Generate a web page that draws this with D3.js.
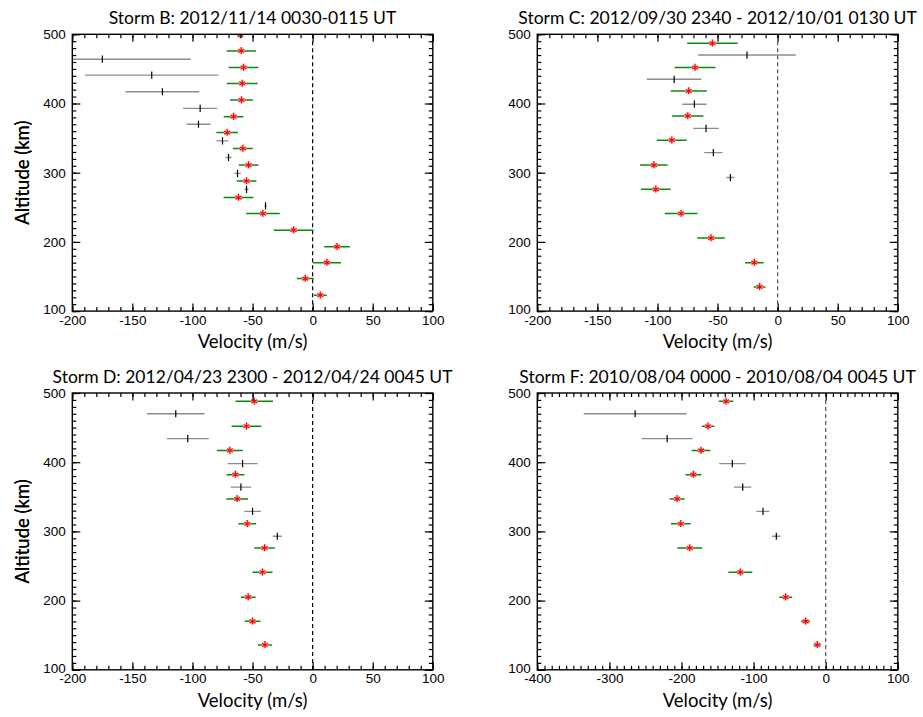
<!DOCTYPE html>
<html><head><meta charset="utf-8">
<script src="https://cdn.jsdelivr.net/npm/d3@7"></script>
<style>body{margin:0;background:#fff} svg{display:block}</style>
</head><body>
<svg id="chart" width="923" height="717"></svg>
<script>
// ---------------- DATA ----------------
const titles = [
  "Storm B: 2012/11/14 0030-0115 UT",
  "Storm C: 2012/09/30 2340 - 2012/10/01 0130 UT",
  "Storm D: 2012/04/23 2300 - 2012/04/24 0045 UT",
  "Storm F: 2010/08/04 0000 - 2010/08/04 0045 UT"
];
const xDomains = [[-200, 100], [-200, 100], [-200, 100], [-400, 100]];
const yDomain = [100, 500];
const yTickLabels = [100, 200, 300, 400, 500];
const xTickLabelsB = [-200, -150, -100, -50, 0, 50, 100];
const xTickLabelsF = [-400, -300, -200, -100, 0, 100];

// Storm B
const stormB_starAlt = [499,476,452,429,405,381,358,335,311,288,264,241,217,193,170,147,123];
const stormB_starVel = [-60.3,-59.4,-57.5,-58.6,-59.2,-65.8,-71.1,-58.1,-53.3,-55,-61.7,-41.4,-15.8,20.3,11.9,-6.1,6.4];
const stormB_starErr = [1,12.2,12.4,12.8,9.5,8.2,9,8.2,8.2,8.2,12.4,14,16.5,10.7,11.7,7,5.3];
const stormB_plusAlt = [464,441,417,393,370,346,322,299,276,252];
const stormB_plusVel = [-175,-133.9,-125,-93.6,-95,-75,-70,-62.5,-55,-39.2];
const stormB_plusErr = [73.6,55.5,30.7,14.2,10,5,2.5,2.7,1.7,1];

// Storm C
const stormC_starAlt = [487,452,418,382,347,311,276,241,205.5,170,135];
const stormC_starVel = [-54.3,-68.7,-74,-74.8,-88.1,-103,-101.4,-80.3,-55.4,-19.4,-15];
const stormC_starErr = [21,17,15,13,12.4,11.5,12.4,13.6,11.5,7.8,4.9];
const stormC_plusAlt = [470,435,399,364,329,293];
const stormC_plusVel = [-25.5,-86.1,-69.3,-59.6,-53.5,-39.3];
const stormC_plusErr = [40.6,22.7,10.1,10.7,7.6,3.3];

// Storm D
const stormD_starAlt = [488,452,417,382,347,311,276,241,205,170,136];
const stormD_starVel = [-48.6,-55,-68.9,-64.2,-62.8,-54.4,-40,-41.7,-53.6,-50,-39.7];
const stormD_starErr = [15.6,12.4,10.8,7.4,9,7.4,8.6,8.3,6.1,6.5,5.8];
const stormD_plusAlt = [470,434,398,364,329,293];
const stormD_plusVel = [-113.9,-103.9,-58.3,-59.7,-50,-29.4];
const stormD_plusErr = [24,17.5,12.4,8.6,6.9,3.75];

// Storm F
const stormF_starAlt = [488,452,417,382,347,311,276,241,205,170,136];
const stormF_starVel = [-138.2,-163.2,-172.9,-183.5,-206.1,-201,-188.6,-118.4,-55.6,-27.9,-11.7];
const stormF_starErr = [10,8.8,13,11,10.4,13.6,17.3,16.6,8.8,6.2,5.3];
const stormF_plusAlt = [470,434,398,364,329,293];
const stormF_plusVel = [-264.3,-219.9,-129.5,-115.1,-87,-68.5];
const stormF_plusErr = [71.3,35.3,18.3,12,9,5.8];

// ---------------- LAYOUT ----------------
const storms = [
  {title: titles[0], xd: xDomains[0], xt: xTickLabelsB, sA: stormB_starAlt, sV: stormB_starVel, sE: stormB_starErr, pA: stormB_plusAlt, pV: stormB_plusVel, pE: stormB_plusErr, x0: 72.3, y0: 34.3, dash: "#000"},
  {title: titles[1], xd: xDomains[1], xt: xTickLabelsB, sA: stormC_starAlt, sV: stormC_starVel, sE: stormC_starErr, pA: stormC_plusAlt, pV: stormC_plusVel, pE: stormC_plusErr, x0: 537.3, y0: 34.3, dash: "#555"},
  {title: titles[2], xd: xDomains[2], xt: xTickLabelsB, sA: stormD_starAlt, sV: stormD_starVel, sE: stormD_starErr, pA: stormD_plusAlt, pV: stormD_plusVel, pE: stormD_plusErr, x0: 72.3, y0: 393, dash: "#000"},
  {title: titles[3], xd: xDomains[3], xt: xTickLabelsF, sA: stormF_starAlt, sV: stormF_starVel, sE: stormF_starErr, pA: stormF_plusAlt, pV: stormF_plusVel, pE: stormF_plusErr, x0: 537.3, y0: 393, dash: "#555"}
];
const W = 360.5, H = 276.8;
const svg = d3.select("#chart");
const tickFont = "'Liberation Sans', Arial, sans-serif";
const titleFont = "Lato, 'Open Sans', sans-serif";

storms.forEach((s, i) => {
  const g = svg.append("g").attr("transform", `translate(${s.x0},${s.y0})`);
  const x = d3.scaleLinear().domain(s.xd).range([0, W]);
  const y = d3.scaleLinear().domain(yDomain).range([H, 0]);

  const clipId = "clip" + i;
  g.append("clipPath").attr("id", clipId).append("rect").attr("width", W).attr("height", H);
  const plot = g.append("g").attr("clip-path", `url(#${clipId})`);

  // zero dashed line
  plot.append("line").attr("x1", x(0)).attr("x2", x(0)).attr("y1", 0).attr("y2", H)
    .attr("stroke", s.dash).attr("stroke-width", 1.2).attr("stroke-dasharray", "4,3");

  // gray error bars + black plus
  s.pA.forEach((a, k) => {
    plot.append("line").attr("x1", x(s.pV[k] - s.pE[k])).attr("x2", x(s.pV[k] + s.pE[k]))
      .attr("y1", y(a)).attr("y2", y(a)).attr("stroke", "#8c8c8c").attr("stroke-width", 1.4);
    plot.append("line").attr("x1", x(s.pV[k])).attr("x2", x(s.pV[k]))
      .attr("y1", y(a) - 3.6).attr("y2", y(a) + 3.6).attr("stroke", "#000").attr("stroke-width", 1.2);
  });
  // green error bars + red stars
  const starPath = "M0,-3.8L0,3.2M-3,-1.6L3,1.6M-3,1.6L3,-1.6";
  s.sA.forEach((a, k) => {
    plot.append("line").attr("x1", x(s.sV[k] - s.sE[k])).attr("x2", x(s.sV[k] + s.sE[k]))
      .attr("y1", y(a)).attr("y2", y(a)).attr("stroke", "#0a8a0a").attr("stroke-width", 1.5);
    const st = plot.append("g").attr("transform", `translate(${x(s.sV[k])},${y(a)})`);
    st.append("path").attr("d", starPath).attr("stroke", "#ffb4b4").attr("stroke-width", 2.4).attr("fill", "none");
    st.append("path").attr("d", starPath).attr("stroke", "#ff0000").attr("stroke-width", 1.1).attr("fill", "none");
  });

  // axes: ticks inward on all four sides
  const minorX = d3.range(s.xd[0], s.xd[1] + 0.1, 10);
  const minorY = d3.range(yDomain[0], yDomain[1] + 0.1, 10);
  const majY = d3.range(100, 501, 100);
  const majXStep = (s.xd[1] - s.xd[0]) > 300 ? 100 : 50;
  const majX = d3.range(s.xd[0], s.xd[1] + 0.1, majXStep);

  function ax(gen, tx, ty) {
    const a = g.append("g").attr("transform", `translate(${tx},${ty})`).call(gen);
    a.select(".domain").remove();
    a.selectAll(".tick line").attr("stroke", "#000").attr("stroke-width", 1.2);
    return a;
  }
  ax(d3.axisBottom(x).tickValues(minorX).tickSize(-4).tickFormat(""), 0, H);
  ax(d3.axisTop(x).tickValues(minorX).tickSize(-4).tickFormat(""), 0, 0);
  ax(d3.axisLeft(y).tickValues(minorY).tickSize(-4).tickFormat(""), 0, 0);
  ax(d3.axisRight(y).tickValues(minorY).tickSize(-4).tickFormat(""), W, 0);
  ax(d3.axisTop(x).tickValues(majX).tickSize(-7.5).tickFormat(""), 0, 0);
  ax(d3.axisRight(y).tickValues(majY).tickSize(-8).tickFormat(""), W, 0);
  const bx = ax(d3.axisBottom(x).tickValues(s.xt).tickSize(-7.5).tickPadding(4).tickFormat(d => String(d)), 0, H);
  bx.selectAll("text").attr("font-family", tickFont).attr("font-size", 13.5).attr("fill", "#000");
  const ly = ax(d3.axisLeft(y).tickValues(yTickLabels).tickSize(-8).tickPadding(6.5).tickFormat(d => String(d)), 0, 0);
  ly.selectAll("text").attr("font-family", tickFont).attr("font-size", 13.5).attr("fill", "#000");
  // nudge lowest y label up slightly as in reference
  ly.selectAll(".tick").filter(d => d === 100).select("text").attr("dy", "0.2em");

  // frame
  g.append("rect").attr("width", W).attr("height", H).attr("fill", "none")
    .attr("stroke", "#000").attr("stroke-width", 1.4);

  // titles
  g.append("text").attr("x", W / 2).attr("y", -10).attr("text-anchor", "middle")
    .attr("font-family", titleFont).attr("font-size", 17.5).attr("fill", "#000").text(s.title);
  g.append("text").attr("x", W / 2).attr("y", H + 37).attr("text-anchor", "middle")
    .attr("font-family", titleFont).attr("font-size", 18.5).attr("fill", "#000").text("Velocity (m/s)");
  g.append("text").attr("transform", `translate(${-s.x0 + 28.5},${H / 2}) rotate(-90)`).attr("text-anchor", "middle")
    .attr("font-family", titleFont).attr("font-size", 18.5).attr("fill", "#000").text("Altitude (km)");
});
</script>
</body></html>
